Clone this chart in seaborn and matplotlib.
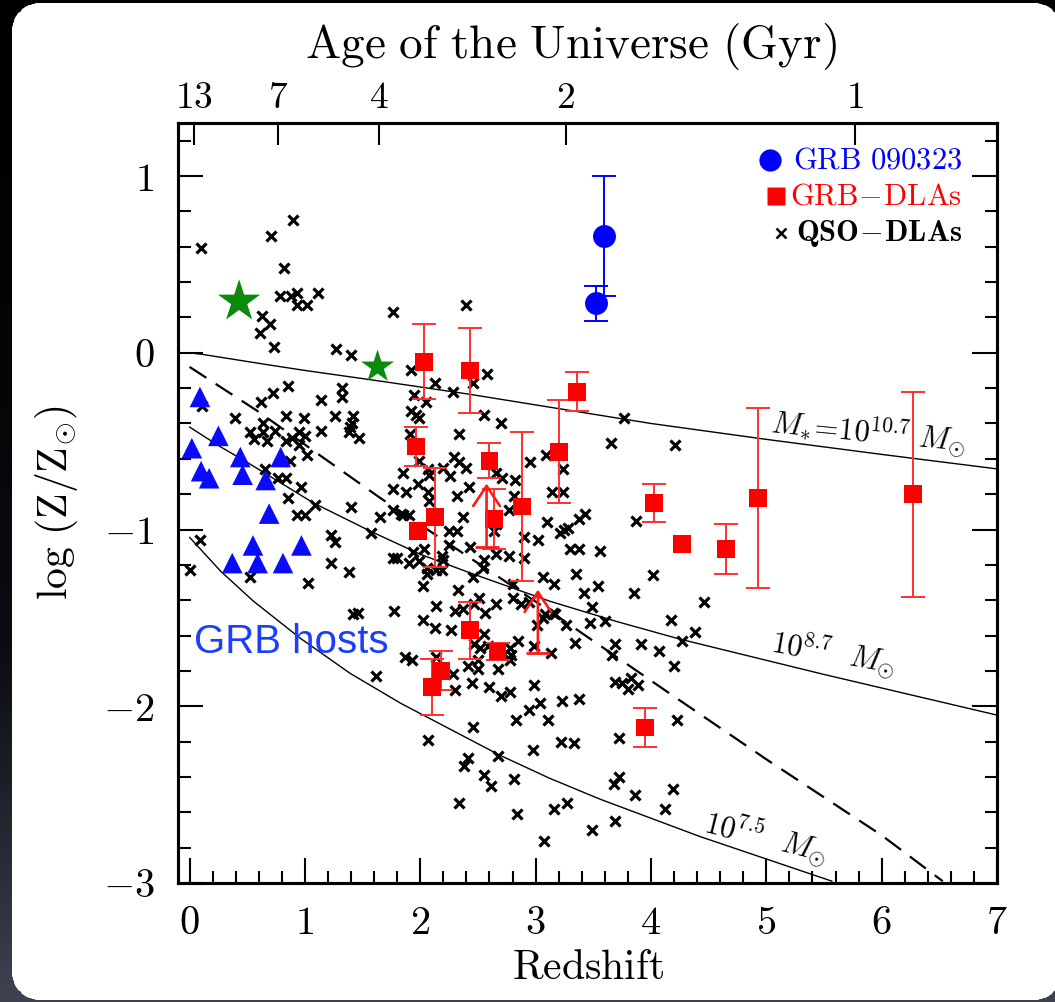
import numpy as np
import pandas as pd
import matplotlib
matplotlib.use("Agg")
import matplotlib.pyplot as plt
from matplotlib.colors import LinearSegmentedColormap
from matplotlib.patches import PathPatch, Rectangle
from matplotlib.path import Path
from matplotlib.ticker import MultipleLocator, NullLocator, FuncFormatter
import seaborn as sns

# ---------------------------------------------------------------- data
# QSO-DLA metallicities (redshift, log Z/Zsun)
qso_z = [0.10, 0.71, 0.90, 0.82, 0.78, 0.88, 0.93, 0.93, 1.02, 1.11,
         0.63, 0.70, 0.61, 0.73, 1.27, 1.40, 1.76, 2.40, 1.92, 2.13,
         2.28, 1.95, 2.05, 0.85, 0.72, 0.62, 1.32, 1.32, 1.14, 0.11,
         0.39, 0.84, 0.99, 1.26, 1.42, 1.92, 1.99, 1.41, 1.39, 0.64,
         0.74, 0.64, 0.52, 0.56, 0.67, 1.14, 0.95, 1.00, 0.89, 0.84,
         0.95, 1.38, 1.47, 1.02, 0.87, 0.65, 0.77, 0.84, 0.97, 0.85,
         1.09, 1.40, 0.93, 1.00, 1.57, 1.23, 1.26, 1.23, 1.38, 1.03,
         0.52, 0.09, 0.00, 1.96, 1.91, 2.34, 1.85, 1.98, 1.88, 1.76,
         2.07, 2.08, 1.65, 1.76, 1.83, 1.85, 1.90, 2.29, 2.34, 2.40,
         2.26, 2.08, 2.07, 2.42, 2.32, 2.37, 2.25, 2.32, 2.25, 1.94,
         2.03, 2.19, 2.20, 1.76, 1.80, 1.90, 1.99, 2.06, 2.14, 2.19,
         2.06, 2.02, 2.33, 1.42, 1.46, 1.77, 2.14, 2.30, 2.37, 2.02,
         2.13, 2.27, 1.87, 1.93, 2.14, 1.62, 2.41, 2.28, 2.30, 2.56,
         2.66, 2.87, 2.85, 2.78, 2.55, 2.47, 2.52, 2.59, 2.50, 2.50,
         2.67, 2.78, 2.79, 2.99, 3.01, 3.08, 3.17, 3.26, 3.34, 3.47,
         3.49, 2.45, 2.60, 2.70, 2.78, 2.99, 2.94, 3.04, 3.23, 3.38,
         2.83, 3.11, 2.07, 2.46, 2.98, 3.22, 3.33, 2.41, 2.38, 2.67,
         2.55, 2.61, 2.81, 2.34, 2.84, 3.16, 3.27, 3.07, 3.49, 3.15,
         3.60, 3.69, 3.66, 3.91, 4.07, 4.17, 4.38, 4.27, 4.20, 3.69,
         3.75, 3.80, 3.83, 3.89, 4.23, 3.72, 3.68, 3.72, 3.86, 4.19,
         4.12, 3.69, 4.46, 2.46, 2.58, 2.55, 2.70, 3.77, 3.65, 4.21,
         3.09, 2.95, 1.99, 2.20, 2.66, 2.71, 3.24, 2.82, 3.14, 3.24,
         2.81, 2.77, 3.43, 3.38, 3.10, 3.28, 3.25, 3.21, 3.87, 2.64,
         2.66, 2.90, 3.02, 3.56, 3.30, 3.38, 2.43, 2.66, 2.77, 2.90,
         2.55, 2.54, 2.46, 3.06, 3.16, 3.35, 3.54, 3.42, 3.85, 4.02,
         2.80, 2.80, 2.94, 3.06, 2.51, 2.47, 3.13]
qso_logZ = [0.59, 0.66, 0.75, 0.48, 0.32, 0.32, 0.34, 0.27, 0.27, 0.34,
            0.21, 0.16, 0.11, 0.03, 0.02, -0.01, 0.23, 0.27, -0.10, -0.17,
            -0.22, -0.24, -0.28, -0.19, -0.23, -0.28, -0.20, -0.25, -0.27, -0.30,
            -0.37, -0.36, -0.37, -0.36, -0.36, -0.33, -0.37, -0.40, -0.42, -0.40,
            -0.44, -0.45, -0.45, -0.49, -0.50, -0.44, -0.45, -0.47, -0.48, -0.50,
            -0.52, -0.45, -0.48, -0.58, -0.61, -0.66, -0.71, -0.71, -0.76, -0.82,
            -0.86, -0.87, -0.92, -0.92, -1.02, -1.03, -1.07, -1.19, -1.24, -1.30,
            -1.27, -1.06, -1.23, -0.35, -0.46, -0.46, -0.68, -0.74, -0.79, -0.77,
            -0.79, -0.84, -0.93, -0.89, -0.91, -0.92, -0.92, -0.59, -0.62, -0.65,
            -0.70, -0.69, -0.66, -0.76, -0.81, -0.93, -1.01, -1.01, -1.09, -1.13,
            -1.11, -1.15, -1.17, -1.16, -1.16, -1.19, -1.18, -1.22, -1.23, -1.23,
            -1.25, -1.32, -1.34, -1.48, -1.47, -1.46, -1.43, -1.46, -1.45, -1.51,
            -1.56, -1.57, -1.72, -1.74, -1.72, -1.83, -1.77, -1.82, -1.91, -1.47,
            -1.42, -1.42, -1.63, -1.67, -1.59, -1.65, -1.67, -1.66, -1.74, -1.79,
            -1.79, -1.74, -1.71, -1.66, -1.54, -1.48, -1.48, -1.54, -1.64, -1.53,
            -1.44, -1.87, -1.89, -1.94, -1.92, -1.88, -2.02, -1.98, -1.97, -1.96,
            -2.08, -2.08, -2.19, -2.12, -2.25, -2.20, -2.21, -2.29, -2.34, -2.28,
            -2.39, -2.45, -2.41, -2.55, -2.61, -2.58, -2.55, -2.76, -2.70, -1.47,
            -1.52, -1.65, -1.71, -1.65, -1.69, -1.51, -1.58, -1.63, -1.77, -1.86,
            -1.87, -1.90, -1.84, -1.88, -2.08, -2.18, -2.44, -2.40, -2.50, -2.47,
            -2.58, -2.65, -1.41, -0.17, -0.12, -0.35, -0.40, -0.37, -0.51, -0.52,
            -0.58, -0.62, -0.61, -0.65, -0.68, -0.71, -0.66, -0.72, -0.79, -0.79,
            -0.81, -0.89, -0.91, -0.94, -0.96, -0.99, -1.00, -1.02, -0.95, -1.01,
            -0.97, -1.04, -1.06, -1.12, -1.11, -1.11, -1.10, -1.14, -1.15, -1.16,
            -1.17, -1.22, -1.27, -1.27, -1.31, -1.25, -1.32, -1.36, -1.36, -1.26,
            -1.31, -1.39, -1.41, -1.50, -1.39, -1.42, -1.70]

# GRB host galaxies (emission-line metallicities)
host_z = [0.09, 0.25, 0.02, 0.44, 0.79, 0.10, 0.17, 0.46, 0.66, 0.69,
          0.55, 0.97, 0.37, 0.59, 0.81]
host_logZ = [-0.25, -0.47, -0.54, -0.59, -0.59, -0.67, -0.71, -0.69, -0.72, -0.91,
             -1.09, -1.09, -1.19, -1.19, -1.19]

# super-solar hosts (green stars)
star_z = [0.43, 1.63]
star_logZ = [0.29, -0.08]

# GRB 090323 absorbers
grb090323_z = [3.59, 3.52]
grb090323_logZ = [0.66, 0.28]
grb090323_err = [0.34, 0.10]

# GRB-DLAs (0 error = no error bar)
dla_z = [2.03, 2.43, 3.36, 3.20, 1.96, 2.60, 2.13, 1.98, 2.64, 2.88,
         4.03, 2.43, 2.67, 2.18, 2.10, 4.93, 6.27, 4.27, 4.65, 3.95]
dla_logZ = [-0.05, -0.10, -0.22, -0.56, -0.53, -0.61, -0.93, -1.01, -0.94, -0.87,
            -0.85, -1.57, -1.69, -1.80, -1.89, -0.82, -0.80, -1.08, -1.11, -2.12]
dla_err = [0.21, 0.24, 0.11, 0.29, 0.11, 0.10, 0.28, 0.0, 0.17, 0.42,
           0.11, 0.16, 0.05, 0.11, 0.16, 0.51, 0.58, 0.0, 0.14, 0.11]

# GRB-DLA lower limits
dla_lim_z = [2.575, 3.02]
dla_lim_logZ = [-1.10, -1.70]

# top axis: age of the Universe
age_labels = ["13", "7", "4", "2", "1"]
age_z = [0.04, 0.77, 1.64, 3.26, 5.77]

# mass-metallicity tracks
track_hi_z = [0.0, 0.12, 0.7, 1.0, 1.65, 2.43, 3.0, 4.0, 5.0, 6.0, 7.0]
track_hi_logZ = [0.0, -0.01, -0.07, -0.10, -0.16, -0.235, -0.295, -0.40, -0.49, -0.575, -0.657]
track_mid_z = [0.0, 0.25, 0.5, 0.8, 1.075, 1.57, 2.0, 2.43, 3.12, 3.7, 4.25, 5.5, 7.0]
track_mid_logZ = [-0.42, -0.525, -0.62, -0.74, -0.85, -1.01, -1.14, -1.245, -1.405,
                  -1.52, -1.62, -1.82, -2.05]
track_lo_z = [0.0, 0.27, 0.555, 0.96, 1.39, 1.83, 2.26, 2.69, 3.12, 3.56, 4.42, 5.57]
track_lo_logZ = [-1.044, -1.236, -1.406, -1.615, -1.813, -1.983, -2.130, -2.277,
                 -2.407, -2.526, -2.736, -2.990]
dla_fit_z = [0.0, 0.59, 1.13, 1.65, 2.43, 3.12, 4.19, 5.0, 6.0, 6.53]
dla_fit_logZ = [-0.08, -0.33, -0.58, -0.82, -1.16, -1.46, -1.94, -2.30, -2.73, -2.99]

# ---------------------------------------------------------------- style
sns.set_theme(style="ticks", rc={
    "axes.edgecolor": "black", "xtick.color": "black", "ytick.color": "black",
    "text.color": "black", "axes.labelcolor": "black",
})
plt.rcParams["font.family"] = ["DejaVu Serif"]
plt.rcParams["mathtext.fontset"] = "cm"

W, H = 1055, 1002
fig = plt.figure(figsize=(W / 100, H / 100), dpi=100)
fig.patch.set_facecolor("white")


def frame_path(x0, y0, x1, y1, r):
    """Canvas rectangle with a rounded-rectangle hole (pixel units, y down)."""
    outer = [(0, 0), (W, 0), (W, H), (0, H), (0, 0)]
    corners = [((x0 + r, y0 + r), 270, 180), ((x0 + r, y1 - r), 180, 90),
               ((x1 - r, y1 - r), 90, 0), ((x1 - r, y0 + r), 0, -90)]
    inner = []
    for (cx, cy), a0, a1 in corners:
        t = np.radians(np.linspace(a0, a1, 24))
        inner.extend(zip(cx + r * np.cos(t), cy + r * np.sin(t)))
    inner.append(inner[0])
    verts = outer + inner
    codes = ([Path.MOVETO] + [Path.LINETO] * 3 + [Path.CLOSEPOLY]
             + [Path.MOVETO] + [Path.LINETO] * (len(inner) - 2) + [Path.CLOSEPOLY])
    return Path(verts, codes)


# dark backdrop around a rounded white card
bg = fig.add_axes([0, 0, 1, 1], zorder=-10)
gy = np.linspace(0, H, 120)
gx = np.array([0, W])
shade = np.linspace(0, 1, 119)[:, None] ** 1.6
cmap = LinearSegmentedColormap.from_list("bg", ["#000000", "#0b0c12", "#3e4150"])
mesh = bg.pcolormesh(gx, gy, shade, cmap=cmap, shading="flat")
bg.set_xlim(0, W)
bg.set_ylim(H, 0)
bg.axis("off")
clip = PathPatch(frame_path(12, 3, 1062, 1000, 28), transform=bg.transData,
                 fc="none", ec="none")
bg.add_patch(clip)
mesh.set_clip_path(clip)
# keep the card's right side clean (figure-fraction units)
fig.add_artist(Rectangle((0.6, 0.035), 0.45, 0.93, transform=fig.transFigure,
                         fc="white", ec="none", zorder=-4))

ax = fig.add_axes([178 / W, 1 - 883 / H, (997 - 178) / W, (883 - 123) / H])
ax.set_facecolor("white")

# tracks
for zz, yy in [(track_hi_z, track_hi_logZ), (track_mid_z, track_mid_logZ),
               (track_lo_z, track_lo_logZ)]:
    sns.lineplot(x=zz, y=yy, ax=ax, color="black", lw=1.0, sort=False,
                 estimator=None, zorder=2)
sns.lineplot(x=dla_fit_z, y=dla_fit_logZ, ax=ax, color="black", lw=1.6,
             sort=False, estimator=None, linestyle=(0, (9, 5)), zorder=2)

# QSO-DLAs
sns.scatterplot(x=qso_z, y=qso_logZ, ax=ax, marker="x", s=52, linewidth=2.3,
                color="black", zorder=3)

# GRB hosts
sns.scatterplot(x=host_z, y=host_logZ, ax=ax, marker="^", s=220,
                color="#0a0aff", edgecolor="none", zorder=4)
ax.scatter(star_z, star_logZ, marker="*", s=[32 ** 2, 25 ** 2],
           color="#0b8a0b", edgecolors="none", zorder=4)

# GRB-DLAs
dla = pd.DataFrame({"z": dla_z, "logZ": dla_logZ, "err": dla_err})
with_err = dla[dla["err"] > 0]
ax.errorbar(with_err["z"], with_err["logZ"], yerr=with_err["err"], fmt="none",
            ecolor="#ff3030", elinewidth=1.4, capsize=8.3, capthick=1.4, zorder=4)
sns.scatterplot(data=dla, x="z", y="logZ", ax=ax, marker="s", s=165,
                color="#ff0000", edgecolor="none", zorder=5)

# lower limits
arrow_len = 0.36
for zl, yl in zip(dla_lim_z, dla_lim_logZ):
    ax.annotate("", xy=(zl, yl + arrow_len), xytext=(zl, yl),
                arrowprops=dict(arrowstyle="->,head_length=0.45,head_width=0.3",
                                color="#ff1a1a", lw=1.9, shrinkA=0, shrinkB=0,
                                mutation_scale=32), zorder=5)
ax.scatter(dla_lim_z, dla_lim_logZ, marker="_", s=17 ** 2, linewidths=2,
           color="#ff1a1a", zorder=5)

# GRB 090323
ax.errorbar(grb090323_z, grb090323_logZ, yerr=grb090323_err, fmt="o", ms=16.5,
            color="#0000ff", mec="none", elinewidth=1.4, capsize=8.3,
            capthick=1.4, zorder=6)

# track labels
lab_kw = dict(fontsize=22, ha="left", va="baseline", rotation_mode="anchor")
ax.text(5.03, -0.455, r"$M_{*}\!=\!10^{10.7}\ M_{\odot}$", rotation=-5.5, **lab_kw)
ax.text(5.03, -1.69, r"$10^{8.7}\ \ M_{\odot}$", rotation=-10, **lab_kw)
ax.text(4.45, -2.71, r"$10^{7.5}\ \ M_{\odot}$", rotation=-14, **lab_kw)

ax.text(0.035, -1.70, "GRB hosts", family=["Liberation Sans", "DejaVu Sans"],
        fontsize=29, color="#1a3dff", ha="left", va="baseline", zorder=7)

# axes
ax.set_xlim(-0.1, 7)
ax.set_ylim(-3, 1.3)
ax.xaxis.set_major_locator(MultipleLocator(1))
ax.xaxis.set_minor_locator(MultipleLocator(0.2))
ax.yaxis.set_major_locator(MultipleLocator(1))
ax.yaxis.set_minor_locator(MultipleLocator(0.2))
fmt = FuncFormatter(lambda v, p: rf"${int(round(v))}$")
ax.xaxis.set_major_formatter(fmt)
ax.yaxis.set_major_formatter(fmt)
ax.tick_params(which="both", direction="in", top=False, right=True,
               width=1.5, color="black")
ax.tick_params(which="major", length=18, labelsize=29)
ax.tick_params(which="minor", length=9)
ax.tick_params(axis="x", which="major", pad=16)
ax.tick_params(axis="y", which="major", pad=17)
for s in ax.spines.values():
    s.set_linewidth(2.2)
    s.set_color("black")

ax.set_xlabel(r"$\mathrm{Redshift}$", fontsize=30)
ax.xaxis.set_label_coords(0.5, -0.083)
ax.set_ylabel(r"$\mathrm{log\ (Z/Z_{\odot})}$", fontsize=30)
ax.yaxis.set_label_coords(-0.12, 0.5)

ax2 = ax.twiny()
ax2.set_xlim(ax.get_xlim())
ax2.set_xticks(age_z)
ax2.set_xticklabels([rf"$\mathbf{{{a}}}$" for a in age_labels])
ax2.xaxis.set_minor_locator(NullLocator())
ax2.tick_params(axis="x", direction="in", length=16, width=1.5, labelsize=27,
                pad=5, top=True, labeltop=True, bottom=False, labelbottom=False)
for s in ax2.spines.values():
    s.set_linewidth(2.2)
    s.set_color("black")

fig.text(571 / W, 1 - 47 / H, r"$\mathrm{Age\ of\ the\ Universe\ (Gyr)}$",
         ha="center", va="center", fontsize=34)

# legend: right-aligned labels with their symbols just left of the text
leg_items = [
    (r"$\mathrm{GRB\ 090323}$", "#0000ff", 0.951, dict(marker="o", ms=16, mec="none"), 23),
    (r"$\mathrm{GRB}\!-\!\mathrm{DLAs}$", "#ff0000", 0.904, dict(marker="s", ms=12.5, mec="none"), 14),
    (r"$\mathbf{QSO}\!-\!\mathbf{DLAs}$", "black", 0.855, dict(marker="x", ms=7, mew=1.8), 15),
]
texts = []
for label, col, yy, _, _ in leg_items:
    texts.append(ax.text(0.957, yy, label, transform=ax.transAxes, ha="right",
                         va="center", fontsize=22, color=col, zorder=7))
fig.canvas.draw()
renderer = fig.canvas.get_renderer()
inv = ax.transAxes.inverted()
for t, (label, col, yy, mkw, gap) in zip(texts, leg_items):
    bb = t.get_window_extent(renderer=renderer)
    x0, _ = inv.transform((bb.x0 - gap, bb.y0))
    ax.plot([x0], [yy], transform=ax.transAxes, color=col, ls="none",
            clip_on=False, zorder=7, **mkw)

fig.savefig("out.png", dpi=100, facecolor=fig.get_facecolor())
